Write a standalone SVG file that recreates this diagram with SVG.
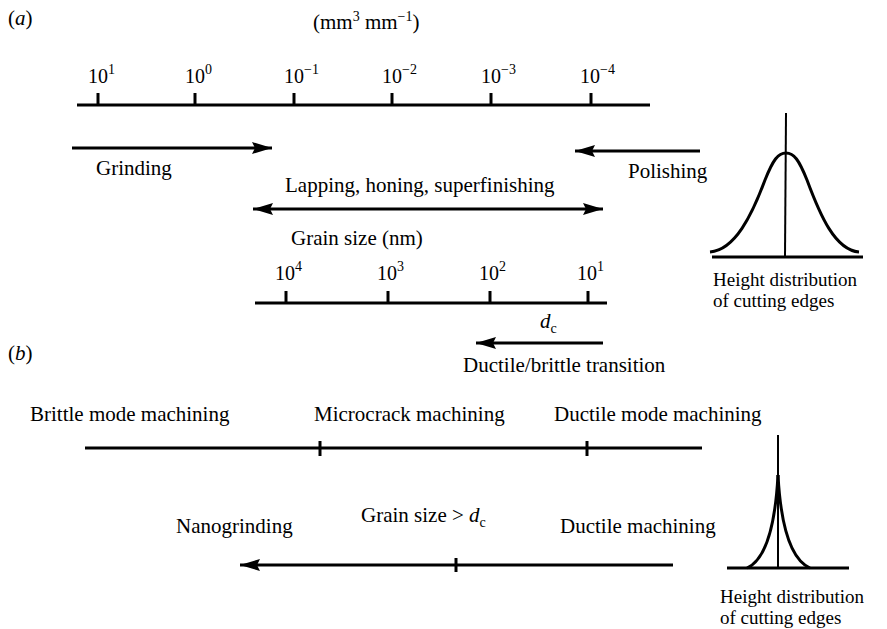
<svg xmlns="http://www.w3.org/2000/svg" width="887" height="629" viewBox="0 0 887 629">
  <defs>
    <marker id="head" viewBox="0 0 20 12" refX="20" refY="6" markerWidth="20" markerHeight="12" markerUnits="userSpaceOnUse" orient="auto-start-reverse">
      <path d="M0,0 L20,6 L0,12 L3,6 Z" fill="#000"/>
    </marker>
    <style>
      text { font-family: "Liberation Serif", "Times New Roman", serif; fill: #000; }
      .lbl { font-size: 21px; }
      .num { font-size: 20px; }
      .cap { font-size: 19px; }
      .sup { font-size: 14px; }
      .it { font-style: italic; }
      .axis { stroke: #000; stroke-width: 3; fill: none; }
      .tick { stroke: #000; stroke-width: 3; }
      .arrow { stroke: #000; stroke-width: 3; fill: none; marker-end: url(#head); }
      .both { marker-start: url(#head); }
      .curve { stroke: #000; stroke-width: 3; fill: none; }
      .thin { stroke: #000; stroke-width: 2; }
    </style>
  </defs>

  <!-- panel (a) -->
  <g id="panel-a-label"><text class="lbl" x="8" y="25">(<tspan class="it">a</tspan>)</text></g>
  <g id="unit-label"><text class="lbl" x="313" y="29">(mm<tspan class="sup" dy="-8">3</tspan><tspan dy="8"> mm</tspan><tspan class="sup" dy="-8">−1</tspan><tspan dy="8">)</tspan></text></g>

  <!-- removal-rate scale -->
  <g id="rate-axis">
    <line class="axis" x1="77" y1="105" x2="650" y2="105"/>
    <line class="tick" x1="98" y1="93" x2="98" y2="105"/>
    <line class="tick" x1="195" y1="93" x2="195" y2="105"/>
    <line class="tick" x1="294" y1="93" x2="294" y2="105"/>
    <line class="tick" x1="392" y1="93" x2="392" y2="105"/>
    <line class="tick" x1="491" y1="93" x2="491" y2="105"/>
    <line class="tick" x1="591" y1="93" x2="591" y2="105"/>
    <text class="num" x="88" y="83">10<tspan class="sup" dy="-9">1</tspan></text>
    <text class="num" x="185" y="83">10<tspan class="sup" dy="-9">0</tspan></text>
    <text class="num" x="284" y="83">10<tspan class="sup" dy="-9">−1</tspan></text>
    <text class="num" x="382" y="83">10<tspan class="sup" dy="-9">−2</tspan></text>
    <text class="num" x="481" y="83">10<tspan class="sup" dy="-9">−3</tspan></text>
    <text class="num" x="580" y="83">10<tspan class="sup" dy="-9">−4</tspan></text>
  </g>

  <g id="grinding"><text class="lbl" x="96" y="175">Grinding</text></g>
  <g id="polishing"><text class="lbl" x="628" y="178">Polishing</text></g>
  <g id="lapping"><text class="lbl" x="285" y="192">Lapping, honing, superfinishing</text></g>
  <g id="grain-size-label"><text class="lbl" x="291" y="245">Grain size (nm)</text></g>

  <!-- grain-size scale -->
  <g id="grain-axis">
    <line class="axis" x1="255" y1="303" x2="607" y2="303"/>
    <line class="tick" x1="286" y1="291" x2="286" y2="303"/>
    <line class="tick" x1="388" y1="291" x2="388" y2="303"/>
    <line class="tick" x1="490" y1="291" x2="490" y2="303"/>
    <line class="tick" x1="588" y1="291" x2="588" y2="303"/>
    <text class="num" x="275" y="280">10<tspan class="sup" dy="-9">4</tspan></text>
    <text class="num" x="377" y="280">10<tspan class="sup" dy="-9">3</tspan></text>
    <text class="num" x="479" y="280">10<tspan class="sup" dy="-9">2</tspan></text>
    <text class="num" x="577" y="280">10<tspan class="sup" dy="-9">1</tspan></text>
  </g>

  <g id="dc-label"><text class="lbl" x="540" y="328"><tspan class="it">d</tspan><tspan class="sup" dy="5">c</tspan></text></g>
  <g id="transition-label"><text class="lbl" x="463" y="372">Ductile/brittle transition</text></g>

  <!-- broad distribution -->
  <g id="broad-distribution">
    <line class="thin" x1="786" y1="113" x2="785" y2="257"/>
    <line class="axis" x1="712" y1="257" x2="863" y2="257"/>
    <path class="curve" d="M710,252 C735,250 752,215 765,180 C773,160 778,153 786,153 C794,153 799,160 807,180 C820,215 835,250 859,252"/>
    <text class="cap" x="713" y="286">Height distribution</text>
    <text class="cap" x="713" y="307">of cutting edges</text>
  </g>

  <!-- panel (b) -->
  <g id="panel-b-label"><text class="lbl" x="8" y="360">(<tspan class="it">b</tspan>)</text></g>
  <g id="brittle-mode"><text class="lbl" x="30" y="421">Brittle mode machining</text></g>
  <g id="microcrack"><text class="lbl" x="314" y="421">Microcrack machining</text></g>
  <g id="ductile-mode"><text class="lbl" x="554" y="421">Ductile mode machining</text></g>
  <g id="mode-axis">
    <line class="axis" x1="85" y1="448" x2="702" y2="448"/>
    <line class="tick" x1="320" y1="441" x2="320" y2="456"/>
    <line class="tick" x1="587" y1="441" x2="587" y2="456"/>
  </g>

  <g id="nanogrinding"><text class="lbl" x="176" y="533">Nanogrinding</text></g>
  <g id="grain-condition"><text class="lbl" x="361" y="522">Grain size &gt; <tspan class="it">d</tspan><tspan class="sup" dy="5">c</tspan></text></g>
  <g id="ductile-machining"><text class="lbl" x="560" y="533">Ductile machining</text></g>

  <!-- narrow distribution -->
  <g id="narrow-distribution">
    <line class="thin" x1="778" y1="435" x2="778" y2="568"/>
    <line class="axis" x1="727" y1="568" x2="849" y2="568"/>
    <path class="curve" d="M747,568 C765,560 775,530 778,475"/>
    <path class="curve" d="M778,475 C781,530 792,560 810,568"/>
    <text class="cap" x="720" y="603">Height distribution</text>
    <text class="cap" x="720" y="624">of cutting edges</text>
  </g>

  <!-- connectors -->
  <g id="connectors">
    <line class="arrow" x1="72" y1="148" x2="272" y2="148"/>
    <line class="arrow" x1="700" y1="151" x2="575" y2="151"/>
    <line class="arrow both" x1="253" y1="209" x2="603" y2="209"/>
    <line class="arrow" x1="603" y1="343" x2="476" y2="343"/>
    <line class="arrow" x1="673" y1="565" x2="240" y2="565"/>
    <line class="tick" x1="456" y1="558" x2="456" y2="572"/>
  </g>
</svg>
